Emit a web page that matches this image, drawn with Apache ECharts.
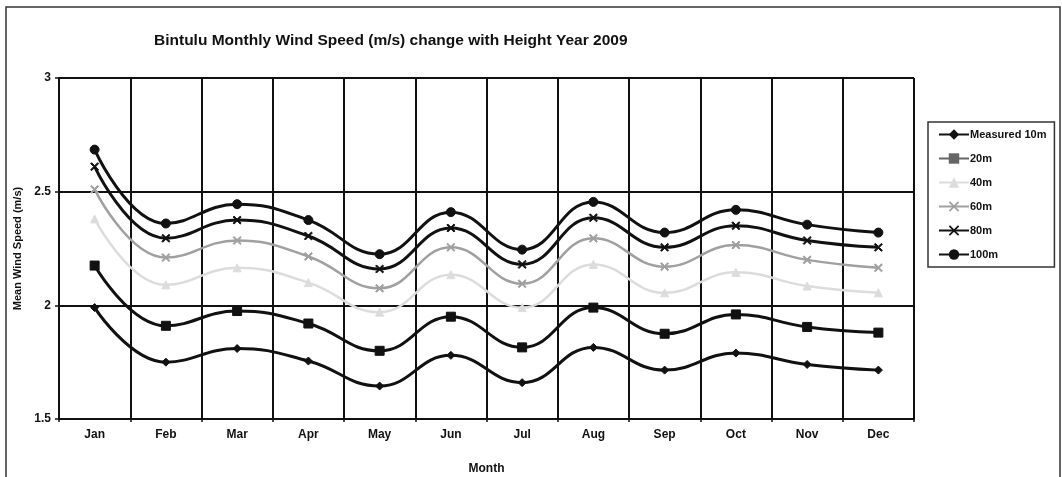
<!DOCTYPE html>
<html>
<head>
<meta charset="utf-8">
<script src="https://cdn.jsdelivr.net/npm/echarts@6/dist/echarts.min.js"></script>
<style>
  html, body { margin: 0; padding: 0; background: #fff; }
  #chart { width: 1062px; height: 477px; }
</style>
</head>
<body>
<div id="chart"></div>
<script>
  var months = ['Jan', 'Feb', 'Mar', 'Apr', 'May', 'Jun', 'Jul', 'Aug', 'Sep', 'Oct', 'Nov', 'Dec']
  var h10 = [1.99, 1.75, 1.81, 1.755, 1.645, 1.78, 1.66, 1.815, 1.715, 1.79, 1.74, 1.715]
  var h20 = [2.175, 1.91, 1.975, 1.92, 1.80, 1.95, 1.815, 1.99, 1.875, 1.96, 1.905, 1.88]
  var h40 = [2.38, 2.09, 2.165, 2.10, 1.97, 2.135, 1.99, 2.18, 2.055, 2.145, 2.085, 2.055]
  var h60 = [2.51, 2.21, 2.285, 2.215, 2.075, 2.255, 2.095, 2.295, 2.17, 2.265, 2.20, 2.165]
  var h80 = [2.61, 2.295, 2.375, 2.305, 2.16, 2.34, 2.18, 2.385, 2.255, 2.35, 2.285, 2.255]
  var h100 = [2.685, 2.36, 2.445, 2.375, 2.225, 2.41, 2.245, 2.455, 2.32, 2.42, 2.355, 2.32]

  var chart = echarts.init(document.getElementById('chart'))

  // excel-like "x" marker
  var cross = 'path://M0,0L2,2L4,0L4.6,0.6L2.6,2.6L4.6,4.6L4,5.2L2,3.2L0,5.2L-0.6,4.6L1.4,2.6L-0.6,0.6Z'

  function mkSeries(name, data, color, symbol, size, width) {
    return {
      name: name,
      type: 'line',
      smooth: 0.45,
      symbol: symbol,
      symbolSize: size,
      showAllSymbol: true,
      lineStyle: { color: color, width: width },
      itemStyle: { color: color, borderColor: color },
      data: data
    }
  }

  chart.setOption({
    animation: false,
    backgroundColor: '#fff',
    textStyle: { fontFamily: 'Liberation Sans, Arial, sans-serif' },
    graphic: [{
      type: 'rect',
      shape: { x: 6, y: 7, width: 1054, height: 480 },
      style: { fill: 'none', stroke: '#333', lineWidth: 1.5 }
    }],
    title: {
      text: 'Bintulu Monthly Wind Speed (m/s) change with Height Year 2009',
      left: 149,
      top: 28,
      textStyle: { fontSize: 15.5, fontWeight: 'bold', color: '#111' }
    },
    legend: {
      orient: 'vertical',
      left: 928,
      top: 122,
      padding: [7, 8, 7, 10],
      borderColor: '#333',
      borderWidth: 1.5,
      itemGap: 13,
      itemWidth: 30,
      itemHeight: 13,
      textStyle: { fontSize: 11, fontWeight: 'bold', color: '#111', padding: [0, 0, 0, -4] },
      data: [
        { name: 'Measured 10m' },
        { name: '20m', itemStyle: { color: '#666', borderColor: '#666' }, lineStyle: { color: '#666' } },
        { name: '40m' },
        { name: '60m' },
        { name: '80m' },
        { name: '100m' }
      ]
    },
    grid: { left: 59, top: 78, right: 148, bottom: 58, outerBoundsMode: 'none' },
    xAxis: {
      type: 'category',
      data: months,
      boundaryGap: true,
      name: 'Month',
      nameLocation: 'middle',
      nameGap: 44,
      nameTextStyle: { fontSize: 12, fontWeight: 'bold', color: '#111' },
      axisLine: { lineStyle: { color: '#111', width: 2 } },
      axisTick: { show: true, length: 3, lineStyle: { color: '#111', width: 1.5 } },
      axisLabel: { margin: 10, fontSize: 12, fontWeight: 'bold', color: '#111' },
      splitLine: { show: true, lineStyle: { color: '#111', width: 2 } }
    },
    yAxis: {
      type: 'value',
      min: 1.5,
      max: 3,
      interval: 0.5,
      name: 'Mean Wind Speed (m/s)',
      nameLocation: 'middle',
      nameGap: 35,
      nameTextStyle: { fontSize: 11, fontWeight: 'bold', color: '#111' },
      axisLine: { show: true, lineStyle: { color: '#111', width: 2 } },
      axisTick: { show: true, length: 4, lineStyle: { color: '#111', width: 1.5 } },
      axisLabel: { margin: 8, fontSize: 12, fontWeight: 'bold', color: '#111' },
      splitLine: { show: true, lineStyle: { color: '#111', width: 2 } }
    },
    series: [
      mkSeries('Measured 10m', h10, '#111', 'diamond', 8, 3),
      mkSeries('20m', h20, '#111', 'rect', 9, 3),
      mkSeries('40m', h40, '#dcdcdc', 'triangle', 8, 2.5),
      mkSeries('60m', h60, '#a0a0a0', cross, 8, 2.5),
      mkSeries('80m', h80, '#111', cross, 8, 3),
      mkSeries('100m', h100, '#111', 'circle', 9, 3)
    ]
  })
</script>
</body>
</html>
